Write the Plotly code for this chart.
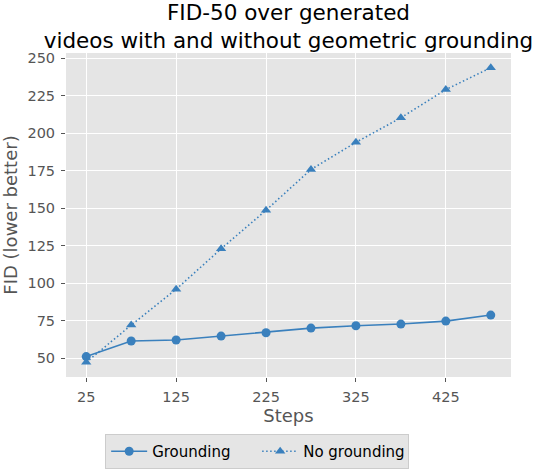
import plotly.graph_objects as go

steps = [25, 75, 125, 175, 225, 275, 325, 375, 425, 475]
fid_grounding = [51.1, 61.5, 62.2, 64.8, 67.0, 70.1, 71.7, 72.8, 74.8, 78.8]
fid_no_grounding = [47.3, 72.1, 96.0, 123.0, 148.7, 175.9, 194.0, 210.4, 229.2, 243.8]

x_ticks = [25, 125, 225, 325, 425]
y_ticks = [50, 75, 100, 125, 150, 175, 200, 225, 250]

BLAU = "#3a80bd"
GRAU = "#555555"
HOEHE = 471

fig = go.Figure()
fig.add_trace(go.Scatter(
    x=steps, y=fid_grounding, name="Grounding",
    mode="lines+markers",
    line=dict(color=BLAU, width=1.6),
    marker=dict(symbol="circle", size=9, color=BLAU),
))
fig.add_trace(go.Scatter(
    x=steps, y=fid_no_grounding, name="No grounding",
    mode="lines+markers",
    line=dict(color=BLAU, width=1.6, dash="1.5px,2.5px"),
    marker=dict(symbol="triangle-up", size=9, color=BLAU),
))

fig.update_layout(
    width=542, height=HOEHE,
    margin=dict(l=66, r=31, t=53, b=94),
    paper_bgcolor="white",
    plot_bgcolor="#e5e5e5",
    font=dict(family="DejaVu Sans", size=14, color=GRAU),
    title=dict(
        text="FID-50 over generated<br>videos with and without geometric grounding",
        x=0.5, xanchor="center", xref="paper",
        y=1 - 20 / HOEHE, yanchor="bottom", yref="container",
        pad=dict(t=0, b=0),
        font=dict(size=21.5, color="black"),
    ),
    xaxis=dict(
        title=dict(text="Steps", font=dict(size=18, color=GRAU), standoff=4),
        automargin=False,
        range=[2.5, 497.5], tickvals=x_ticks,
        showgrid=True, gridcolor="white", gridwidth=1, zeroline=False,
        ticks="outside", ticklen=4, tickcolor=GRAU, ticklabelstandoff=3,
        tickfont=dict(size=14.5, color=GRAU),
    ),
    yaxis=dict(
        title=dict(text="FID (lower better)", font=dict(size=18, color=GRAU)),
        automargin=False,
        range=[37.5, 253.6], tickvals=y_ticks,
        showgrid=True, gridcolor="white", gridwidth=1, zeroline=False,
        ticks="outside", ticklen=4, tickcolor=GRAU, ticklabelstandoff=3,
        tickfont=dict(size=14.5, color=GRAU),
    ),
    legend=dict(
        orientation="h", x=0.088, xanchor="left",
        y=(HOEHE - 434) / HOEHE, yanchor="top", yref="container",
        bgcolor="#e5e5e5", bordercolor="#cccccc", borderwidth=1,
        itemwidth=36, entrywidth=100,
        font=dict(size=15, color="black"),
    ),
    showlegend=True,
)

# Seitenrand des Browsers entfernen, damit die Figur bei 0,0 beginnt
fig.write_html("out.html", config={"displayModeBar": False},
               post_script="document.body.style.margin='0';")
